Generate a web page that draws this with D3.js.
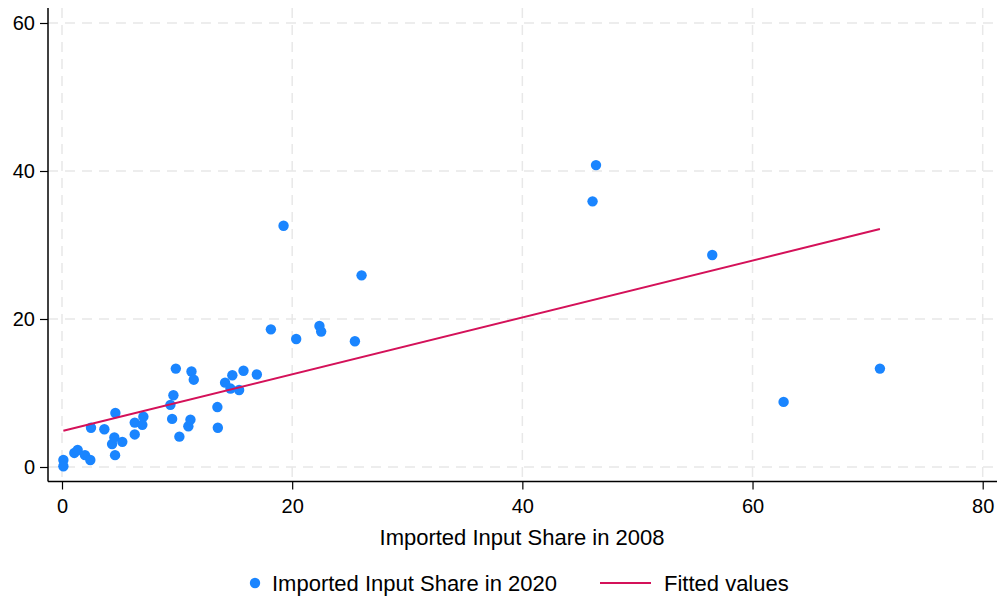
<!DOCTYPE html>
<html><head><meta charset="utf-8">
<script src="https://cdn.jsdelivr.net/npm/d3@7"></script>
<style>body{margin:0;background:#fff}svg{display:block}text{font-family:"Liberation Sans",Arial,Helvetica,sans-serif;fill:#000}</style>
</head><body>
<svg id="c" width="1001" height="599"></svg>
<script>
const share2008 = [0.12,0.12,1.07,1.36,2.0,2.46,2.52,3.68,4.35,4.55,4.61,4.64,5.24,6.32,6.32,6.98,7.07,9.42,9.57,9.68,9.89,10.2,10.98,11.16,11.25,11.45,13.5,13.54,14.17,14.64,14.8,15.39,15.77,16.93,18.15,19.25,20.35,22.37,22.52,25.45,26.03,46.1,46.4,56.5,62.7,71.07];
const share2020 = [0.95,0.1,1.9,2.3,1.6,0.95,5.3,5.1,3.1,4.0,1.6,7.3,3.4,4.4,6.0,5.7,6.8,8.4,6.5,9.7,13.3,4.1,5.5,6.4,12.9,11.8,8.1,5.3,11.4,10.6,12.4,10.4,13.0,12.5,18.6,32.6,17.3,19.05,18.3,17.0,25.9,35.9,40.8,28.65,8.8,13.3];
const fittedX = [0.12, 71.07];
const fittedY = [4.9, 32.15];
const xTicks = [0,20,40,60,80];
const yTicks = [0,20,40,60];
const xTitle = "Imported Input Share in 2008";
const legendLabels = ["Imported Input Share in 2020","Fitted values"];

(function(){
const blue = "#1a85ff", red = "#d41159";
const svg = d3.select("#c");
const x = d3.scaleLinear().domain([0,80]).range([62,982.7]);
const y = d3.scaleLinear().domain([0,60]).range([467,23]);
const pL = 48, pR = 997, pT = 8, pB = 481.5;

const grid = svg.append("g").attr("stroke","#e8e8e8").attr("stroke-width",1.5).attr("stroke-dasharray","10,7");
grid.selectAll(".h").data(yTicks).join("line").attr("class","h").attr("x1",pL).attr("x2",pR).attr("y1",d=>y(d)).attr("y2",d=>y(d));
grid.selectAll(".v").data(xTicks).join("line").attr("class","v").attr("y1",pT).attr("y2",pB).attr("x1",d=>x(d)).attr("x2",d=>x(d));

const xa = d3.axisBottom(x).tickValues(xTicks).tickSize(8).tickPadding(9).tickFormat(d3.format("d"));
const ya = d3.axisLeft(y).tickValues(yTicks).tickSize(8).tickPadding(5).tickFormat(d3.format("d"));
const gx = svg.append("g").attr("transform",`translate(0,${pB})`).call(xa);
const gy = svg.append("g").attr("transform",`translate(${pL},0)`).call(ya);
[gx,gy].forEach(g=>{
  g.select(".domain").remove();
  g.selectAll(".tick line").attr("stroke","#000").attr("stroke-width",1.2);
  g.selectAll(".tick text").style("font-size","20px").attr("fill","#000");
});
svg.append("line").attr("x1",pL).attr("x2",pR).attr("y1",pB).attr("y2",pB).attr("stroke","#000").attr("stroke-width",1.5);
svg.append("line").attr("x1",pL).attr("x2",pL).attr("y1",pT).attr("y2",pB).attr("stroke","#000").attr("stroke-width",1.5);

const pts = share2008.map((v,i)=>({x:v,y:share2020[i]}));
svg.append("g").selectAll("circle").data(pts).join("circle")
  .attr("cx",d=>x(d.x)).attr("cy",d=>y(d.y)).attr("r",5.2).attr("fill",blue);

const fit = fittedX.map((v,i)=>({x:v,y:fittedY[i]}));
svg.append("path").datum(fit).attr("d",d3.line().x(d=>x(d.x)).y(d=>y(d.y)))
  .attr("stroke",red).attr("stroke-width",2).attr("fill","none");

svg.append("text").attr("x",522).attr("y",545).attr("text-anchor","middle").style("font-size","22px").text(xTitle);

svg.append("circle").attr("cx",255).attr("cy",583).attr("r",5.2).attr("fill",blue);
svg.append("text").attr("x",272).attr("y",591).style("font-size","22px").text(legendLabels[0]);
svg.append("line").attr("x1",600).attr("x2",651).attr("y1",583).attr("y2",583).attr("stroke",red).attr("stroke-width",2);
svg.append("text").attr("x",664).attr("y",591).style("font-size","22px").text(legendLabels[1]);
})();
</script>
</body></html>
